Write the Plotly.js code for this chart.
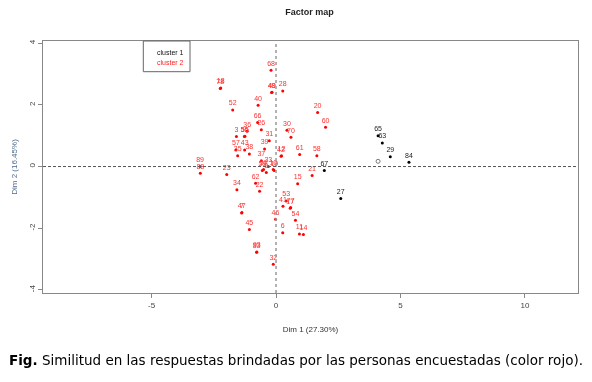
<!DOCTYPE html>
<html>
<head>
<meta charset="utf-8">
<script src="https://cdn.plot.ly/plotly-3.0.1.min.js"></script>
<style>
html,body{margin:0;padding:0;background:#fff;}
#chart{width:592px;height:382px;-webkit-font-smoothing:antialiased;}
#chart svg{will-change:transform;}
</style>
</head>
<body>
<div id="chart"></div>
<script>
// Cluster 1 (black)
const labels1 = ["65","63","29","84","67","27"];
const x1 = [4.10, 4.27, 4.59, 5.34, 1.94, 2.60];
const y1 = [1.00, 0.76, 0.32, 0.14, -0.13, -1.04];
// cluster 1 centre (open circle)
const centreX = [4.10];
const centreY = [0.17];

// Cluster 2 (red)
const labels2 = ["68","78","18","48","49","28","52","40","20","60","66","26","36","3","56","55","30","70","31","39",
  "57","35","43","38","37","42","12","61","58","89","88","23","33","59","50","9","10","19","62","22","34","15","21",
  "53","41","17","77","47","7","46","54","45","6","11","14","83","93","32"];
const x2 = [-0.20,-2.24,-2.22,-0.18,-0.16,0.27,-1.74,-0.72,1.67,1.99,-0.74,-0.59,-1.16,-1.59,-1.27,-1.25,0.44,0.60,-0.27,-0.46,
  -1.61,-1.54,-1.26,-1.07,-0.59,0.20,0.22,0.95,1.64,-3.05,-3.04,-1.98,-0.31,-0.55,-0.50,-0.39,-0.11,-0.07,-0.82,-0.66,-1.57,0.87,1.45,
  0.41,0.28,0.57,0.59,-1.38,-1.37,-0.02,0.78,-1.07,0.27,0.94,1.10,-0.78,-0.77,-0.11];
const y2 = [3.12,2.53,2.55,2.40,2.41,2.45,1.83,1.99,1.75,1.27,1.43,1.19,1.14,0.97,0.97,0.98,1.18,0.95,0.84,0.57,
  0.54,0.35,0.54,0.41,0.19,0.33,0.35,0.39,0.35,0.00,-0.22,-0.26,0.00,-0.13,-0.10,-0.19,-0.10,-0.13,-0.54,-0.80,-0.75,-0.56,-0.29,
  -1.12,-1.29,-1.35,-1.33,-1.51,-1.49,-1.71,-1.74,-2.04,-2.15,-2.19,-2.20,-2.78,-2.77,-3.17];

const xTicks = [-5, 0, 5, 10];
const yTicks = [-4, -2, 0, 2, 4];

const FONT = "Liberation Sans, Arial, sans-serif";
const RED = "#ff3030";
const BLK = "#222222";

const traces = [
  {x: x2, y: y2, text: labels2, mode: "markers+text", type: "scatter", textposition: "top center",
   marker: {color: labels2.map(() => "#ff0000"), size: 3, line: {width: 0}},
   textfont: {family: FONT, size: 7, color: labels2.map(() => RED)},
   cliponaxis: false, hoverinfo: "skip", name: "cluster 2"},
  {x: x1, y: y1, text: labels1, mode: "markers+text", type: "scatter", textposition: "top center",
   marker: {color: labels1.map(() => "#000000"), size: 3, line: {width: 0}},
   textfont: {family: FONT, size: 7, color: labels1.map(() => BLK)},
   cliponaxis: false, hoverinfo: "skip", name: "cluster 1"},
  {x: centreX, y: centreY, mode: "markers", type: "scatter",
   marker: {symbol: "circle-open", color: "#777", size: 4, line: {width: 1, color: "#777"}}, hoverinfo: "skip", name: "centre"}
];

const layout = {
  width: 592, height: 382,
  margin: {l: 43, r: 14, t: 41, b: 89, pad: 0},
  paper_bgcolor: "#fff", plot_bgcolor: "#fff",
  showlegend: false,
  title: {text: "<b>Factor map</b>", font: {family: FONT, size: 9, color: "#222"}, x: 0.523, xanchor: "center", y: 0.968, yanchor: "middle"},
  xaxis: {range: [-9.36, 12.13], tickvals: xTicks, ticktext: xTicks.map(String), showgrid: false, zeroline: false,
    showline: true, linecolor: "#888", linewidth: 1, mirror: true, ticks: "outside", ticklen: 4, tickcolor: "#888",
    tickfont: {family: FONT, size: 8, color: "#444"},
    title: {text: "Dim 1 (27.30%)", font: {family: FONT, size: 8, color: "#333"}, standoff: 17}},
  yaxis: {range: [-4.1, 4.07], tickvals: yTicks, ticktext: yTicks.map(String), showgrid: false, zeroline: false,
    showline: true, linecolor: "#888", linewidth: 1, mirror: true, ticks: "outside", ticklen: 4, tickcolor: "#888",
    tickangle: -90, tickfont: {family: FONT, size: 8, color: "#444"},
    title: {text: "Dim 2 (16.45%)", font: {family: FONT, size: 8, color: "#4d6a8c"}, standoff: 8}},
  shapes: [
    {type: "line", xref: "x", yref: "paper", x0: 0, x1: 0, y0: 0, y1: 1, line: {color: "#999", width: 1.5, dash: "dot"}},
    {type: "line", xref: "paper", yref: "y", x0: 0, x1: 1, y0: 0, y1: 0, line: {color: "#555", width: 1, dash: "3px,2px"}},
    {type: "rect", xref: "paper", yref: "paper", x0: (143.3-43)/535, x1: (190-43)/535, y0: (293-71.7)/252, y1: 1,
     line: {color: "#666", width: 1}, fillcolor: "rgba(0,0,0,0)"}
  ],
  annotations: [
    {xref: "paper", yref: "paper", x: (155-43)/535, y: (293-52.3)/252, xanchor: "left", yanchor: "middle", showarrow: false,
     text: "cluster 1", font: {family: FONT, size: 7, color: "#111"}},
    {xref: "paper", yref: "paper", x: (155-43)/535, y: (293-62)/252, xanchor: "left", yanchor: "middle", showarrow: false,
     text: "cluster 2", font: {family: FONT, size: 7, color: "#ff2222"}},
    {xref: "paper", yref: "paper", x: -36/535, y: -(360-293)/252, xanchor: "left", yanchor: "middle", showarrow: false,
     text: "<b>Fig.</b> Similitud en las respuestas brindadas por las personas encuestadas (color rojo).",
     font: {family: "DejaVu Sans, Verdana, sans-serif", size: 13.5, color: "#000"}}
  ]
};

Plotly.newPlot("chart", traces, layout, {staticPlot: true, displayModeBar: false});
</script>
</body>
</html>
